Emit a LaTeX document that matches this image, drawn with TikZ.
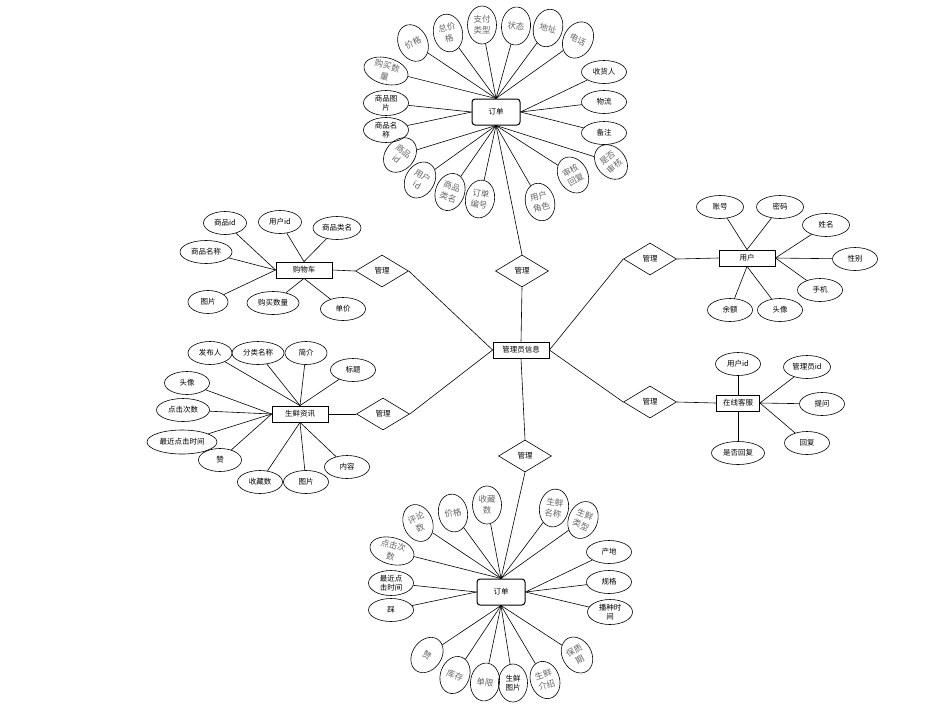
\documentclass[tikz,border=0pt]{standalone}
\usepackage{fontspec}
\newfontfamily\cjk{Noto Sans CJK SC}
\usetikzlibrary{shapes.geometric}
\newcommand\cbf{\cjk\fontsize{7.5}{9}\selectfont}
\newcommand\cgf{\cjk\fontsize{8.5}{11}\selectfont}
\tikzset{
 ent/.style={draw, line width=0.8pt, minimum width=56pt, minimum height=16pt, inner sep=1pt, font=\cbf},
 rel/.style={diamond, draw, line width=0.6pt, minimum width=53pt, minimum height=32pt, aspect=1.65, inner sep=0pt, font=\cbf},
 attr/.style={ellipse, draw, line width=0.6pt, minimum width=45pt, minimum height=23pt, inner sep=0pt, font=\cbf, align=center},
 attrg/.style={ellipse, draw, line width=0.6pt, minimum width=29pt, minimum height=38pt, inner sep=0pt, font=\cgf, text=black!60, align=center},
 attrv/.style={ellipse, draw, line width=0.6pt, minimum width=29pt, minimum height=38pt, inner sep=0pt, font=\cbf, align=center},
 ord/.style={draw, rounded corners=3pt, line width=1pt, minimum width=48pt, minimum height=26pt, font=\cbf},
 ln/.style={line width=0.6pt}
}
\begin{document}
\begin{tikzpicture}[x=1pt,y=-1pt]
\useasboundingbox[fill=white] (0,0) rectangle (952,715);
% ===== top order cluster =====
\node[ord] (o1) at (496,112) {订单};
\node[attrg, rotate=25] (t1) at (413,43) {价格};
\node[attrg, rotate=12] (t2) at (448,33) {总价\\格};
\node[attrg] (t3) at (482,25) {支付\\类型};
\node[attrg, rotate=-5] (t4) at (516,26) {状态};
\node[attrg, rotate=-15] (t5) at (548,28) {地址};
\node[attrg, rotate=-28] (t6) at (578,40) {电话};
\node[attr] (t7) at (604,72) {收货人};
\node[attr] (t8) at (604,102) {物流};
\node[attr] (t9) at (604,133) {备注};
\node[attrg, rotate=40] (t10) at (611,162) {是否\\审核};
\node[attrg, rotate=30] (t11) at (573,175) {审核\\回复};
\node[attrg, rotate=15] (t12) at (540,202) {用户\\角色};
\node[attrg, rotate=-10] (t13) at (480,199) {订单\\编号};
\node[attrg, rotate=-20] (t14) at (450,192) {商品\\类名};
\node[attrg, rotate=-30] (t15) at (420,180) {用户\\id};
\node[attrg, rotate=-40] (t16) at (400,155) {商品\\id};
\node[attr, minimum height=25pt] (t17) at (386,130) {商品名\\称};
\node[attr, minimum height=25pt] (t18) at (386,103) {商品图\\片};
\node[attrg, minimum width=45pt, minimum height=26pt, rotate=-15] (t19) at (386,71) {购买数\\量};
\foreach \a in {t1,t2,t3,t4,t5,t6,t19} \draw[ln] (o1.north) -- (\a);
\foreach \a in {t7,t8,t9} \draw[ln] (o1.east) -- (\a);
\foreach \a in {t17,t18} \draw[ln] (o1.west) -- (\a);
\foreach \a in {t10,t11,t12,t13,t14,t15,t16} \draw[ln] (o1.south) -- (\a);
% ===== center =====
\node[ent] (m) at (521,350) {管理员信息};
\node[rel] (r1) at (522,271) {管理};
\node[rel] (r2) at (382,271) {管理};
\node[rel] (r3) at (383,414) {管理};
\node[rel] (r4) at (650,259) {管理};
\node[rel] (r5) at (650,402) {管理};
\node[rel] (r6) at (525,456) {管理};
% ===== shopping cart =====
\node[ent] (c1) at (304,270) {购物车};
\node[attr, minimum width=43pt] (ca) at (225,223) {商品id};
\node[attr, minimum width=43pt] (cb) at (280,222) {用户id};
\node[attr, minimum width=48pt] (cc) at (337,228) {商品类名};
\node[attr, minimum width=52pt] (cd) at (206,252) {商品名称};
\node[attr, minimum width=40pt] (ce) at (208,302) {图片};
\node[attr, minimum width=52pt] (cf) at (273,303) {购买数量};
\node[attr] (cg) at (343,309) {单价};
\foreach \a in {ca,cd,ce} \draw[ln] (c1.west) -- (\a);
\foreach \a in {cb,cc} \draw[ln] (c1.north) -- (\a);
\foreach \a in {cf,cg} \draw[ln] (c1.south) -- (\a);
% ===== fresh news =====
\node[ent] (n1) at (300,414) {生鲜资讯};
\node[attr, minimum width=44pt] (na) at (210,353) {发布人};
\node[attr, minimum width=52pt] (nb) at (258,353) {分类名称};
\node[attr, minimum width=42pt] (nc) at (306,353) {简介};
\node[attr] (nd) at (353,370) {标题};
\node[attr] (ne) at (187,383) {头像};
\node[attr, minimum width=53pt] (nf) at (183,410) {点击次数};
\node[attr, minimum width=70pt, minimum height=24pt] (ng) at (182,442) {最近点击时间};
\node[attr, minimum width=43pt] (nh) at (220,460) {赞};
\node[attr] (ni) at (260,482) {收藏数};
\node[attr] (nj) at (306,482) {图片};
\node[attr] (nk) at (347,467) {内容};
\foreach \a in {ne,nf,ng,nh} \draw[ln] (n1.west) -- (\a);
\foreach \a in {na,nb,nc,nd} \draw[ln] (n1.north) -- (\a);
\foreach \a in {ni,nj,nk} \draw[ln] (n1.south) -- (\a);
% ===== user =====
\node[ent] (u1) at (747,258) {用户};
\node[attr, minimum width=47pt] (ua) at (720,207) {账号};
\node[attr, minimum width=47pt] (ub) at (780,207) {密码};
\node[attr, minimum width=47pt] (uc) at (826,225) {姓名};
\node[attr] (ud) at (855,259) {性别};
\node[attr] (ue) at (820,290) {手机};
\node[attr] (uf) at (780,310) {头像};
\node[attr] (ug) at (730,310) {余额};
\foreach \a in {ua,ub} \draw[ln] (u1.north) -- (\a);
\foreach \a in {uc,ud,ue} \draw[ln] (u1.east) -- (\a);
\foreach \a in {uf,ug} \draw[ln] (u1.south) -- (\a);
% ===== online service =====
\node[ent, minimum width=43pt] (k1) at (738,403) {在线客服};
\node[attr] (ka) at (738,364) {用户id};
\node[attr, minimum width=47pt] (kb) at (807,367) {管理员id};
\node[attr] (kc) at (822,404) {提问};
\node[attr] (kd) at (807,443) {回复};
\node[attr, minimum width=53pt] (ke) at (738,453) {是否回复};
\draw[ln] (k1.north) -- (ka);
\foreach \a in {kb,kc,kd} \draw[ln] (k1.east) -- (\a);
\draw[ln] (k1.south) -- (ke);
% ===== bottom product cluster =====
\node[ord] (o2) at (501,592) {订单};
\node[attrg, rotate=22] (b1) at (418,523) {评论\\数};
\node[attrg, rotate=10] (b2) at (453,513) {价格};
\node[attrg] (b3) at (487,505) {收藏\\数};
\node[attrg, rotate=-10] (b4) at (554,508) {生鲜\\名称};
\node[attrg, rotate=-22] (b5) at (583,520) {生鲜\\类型};
\node[attr] (b6) at (609,552) {产地};
\node[attr] (b7) at (609,582) {规格};
\node[attr, minimum height=25pt] (b8) at (610,612) {播种时\\间};
\node[attrg, rotate=30] (b9) at (577,655) {保质\\期};
\node[attrg, rotate=18] (b10) at (545,680) {生鲜\\介绍};
\node[attrv] (b11) at (513,683) {生鲜\\图片};
\node[attrg, rotate=-8] (b12) at (485,682) {单限};
\node[attrg, rotate=-20] (b13) at (455,675) {库存};
\node[attrg, rotate=-35] (b14) at (427,655) {赞};
\node[attrg, minimum width=45pt, minimum height=26pt, rotate=-15] (b15) at (392,551) {点击次\\数};
\node[attr, minimum height=25pt] (b16) at (391,583) {最近点\\击时间};
\node[attr] (b17) at (391,610) {踩};
\foreach \a in {b1,b2,b3,b4,b5,b15} \draw[ln] (o2.north) -- (\a);
\foreach \a in {b6,b7,b8} \draw[ln] (o2.east) -- (\a);
\foreach \a in {b16,b17} \draw[ln] (o2.west) -- (\a);
\foreach \a in {b9,b10,b11,b12,b13,b14} \draw[ln] (o2.south) -- (\a);
% ===== relationship connectors =====
\draw[ln] (o1.south) -- (r1.north);
\draw[ln] (r1.south) -- (m.north);
\draw[ln] (m.south) -- (r6.north);
\draw[ln] (r6.south) -- (o2.north);
\draw[ln] (c1.east) -- (r2.west);
\draw[ln] (r2.east) -- (m.west);
\draw[ln] (n1.east) -- (r3.west);
\draw[ln] (r3.east) -- (m.west);
\draw[ln] (m.east) -- (r4.west);
\draw[ln] (r4.east) -- (u1.west);
\draw[ln] (m.east) -- (r5.west);
\draw[ln] (r5.east) -- (k1.west);
\end{tikzpicture}
\end{document}
